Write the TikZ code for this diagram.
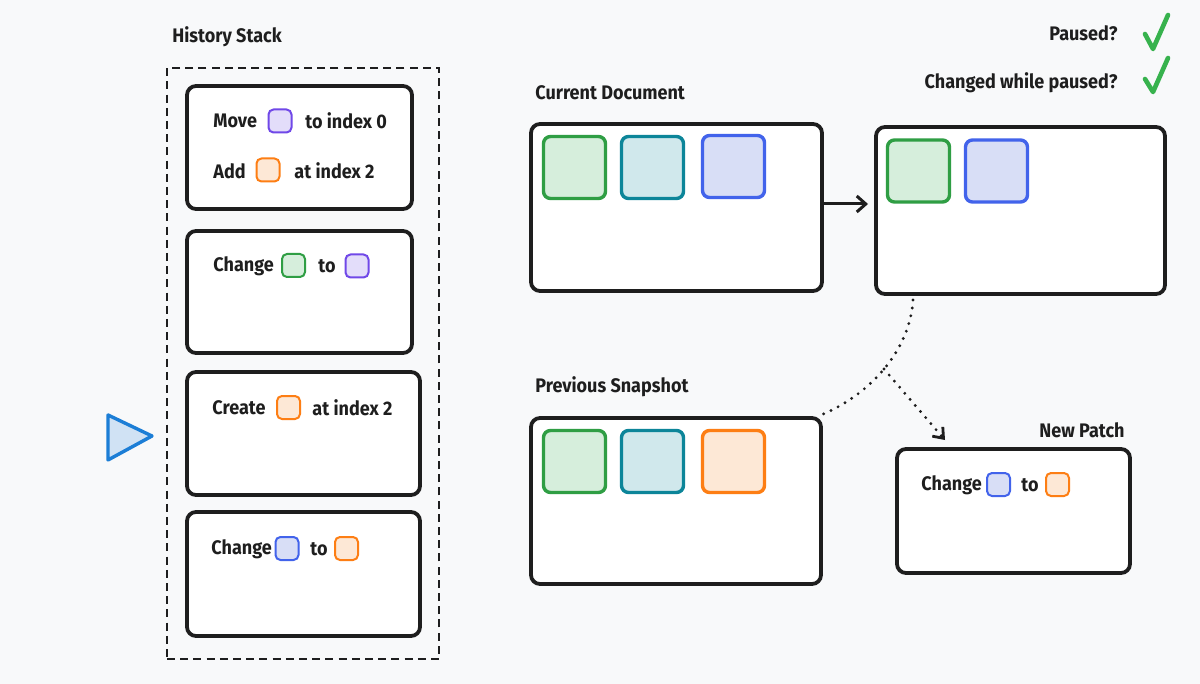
\documentclass[tikz,border=0pt]{standalone}
\usepackage{fontspec}
\setmainfont{Fira Sans}
\newfontfamily\handfont{Fira Sans}[FakeStretch=0.92]
\usetikzlibrary{arrows.meta,fit}
\definecolor{bg}{RGB}{248,249,250}
\definecolor{ink}{RGB}{30,30,30}
\definecolor{greenS}{RGB}{47,158,68}
\definecolor{greenF}{RGB}{214,238,220}
\definecolor{tealS}{RGB}{12,133,153}
\definecolor{tealF}{RGB}{208,232,236}
\definecolor{blueS}{RGB}{66,99,235}
\definecolor{blueF}{RGB}{216,222,246}
\definecolor{purpleS}{RGB}{112,72,232}
\definecolor{purpleF}{RGB}{227,221,250}
\definecolor{orangeS}{RGB}{253,126,20}
\definecolor{orangeF}{RGB}{253,232,214}
\definecolor{checkG}{RGB}{55,178,77}
\definecolor{triS}{RGB}{28,126,214}
\definecolor{triF}{RGB}{208,226,244}
\begin{document}
\begin{tikzpicture}[x=0.5pt,y=-0.5pt,
  box/.style={draw=ink, line width=1.9pt, rounded corners=4.5pt, fill=white, inner sep=0pt},
  stackbox/.style={draw=ink, line width=1.4pt, dash pattern=on 4pt off 2.6pt, inner sep=0pt},
  lbl/.style={font=\handfont\bfseries\fontsize{9.8}{11}\selectfont, text=ink, inner sep=0pt, anchor=west},
  rlbl/.style={lbl, anchor=east},
  sqs/.style={line width=1pt, rounded corners=2.5pt, minimum size=11.5pt, inner sep=0pt},
  sqb/.style={line width=1.7pt, rounded corners=3.5pt, minimum size=31pt, inner sep=0pt},
  gsq/.style={draw=greenS, fill=greenF},
  tsq/.style={draw=tealS, fill=tealF},
  bsq/.style={draw=blueS, fill=blueF},
  psq/.style={draw=purpleS, fill=purpleF},
  osq/.style={draw=orangeS, fill=orangeF},
  conn/.style={draw=ink, line width=1.5pt, line cap=round, -{Straight Barb[length=4.5pt,width=8pt,line width=1.5pt]}},
  dconn/.style={draw=ink, line width=1.4pt, line cap=round, -{Straight Barb[length=4.5pt,width=7pt,line width=1.4pt]}},
  dots/.style={draw=ink, line width=1.6pt, line cap=round, dash pattern=on 0pt off 4pt},
  check/.style={draw=checkG, line width=2.3pt, line cap=round, line join=round}
]
\fill[bg] (0,0) rectangle (1200,684);
\useasboundingbox (0,0) rectangle (1200,684);

% History stack
\node[lbl] (histlbl) at (172,37) {History Stack};
\node[stackbox, fit={(167,68) (439,659)}] (stack) {};
\node[box, fit={(187,86) (412,209)}] (h1) {};
\node[box, fit={(187,231) (412,353)}] (h2) {};
\node[box, fit={(187,372) (420,495)}] (h3) {};
\node[box, fit={(187,512) (420,636)}] (h4) {};

\node[lbl] (t1a) at (213,121) {Move};
\node[sqs,psq] (s1a) at (280,121) {};
\node[lbl] (t1b) at (305,121) {to index 0};
\node[lbl] (t1c) at (213,171) {Add};
\node[sqs,osq] (s1b) at (268,170) {};
\node[lbl] (t1d) at (294,171) {at index 2};

\node[lbl] (t2a) at (213,266) {Change};
\node[sqs,gsq] (s2a) at (293.5,265.5) {};
\node[lbl] (t2b) at (318,266) {to};
\node[sqs,psq] (s2b) at (357,266) {};

\node[lbl] (t3a) at (212,408) {Create};
\node[sqs,osq] (s3a) at (288.5,407.5) {};
\node[lbl] (t3b) at (312,408) {at index 2};

\node[lbl] (t4a) at (211,549) {Change};
\node[sqs,bsq] (s4a) at (287,548.5) {};
\node[lbl] (t4b) at (310,549) {to};
\node[sqs,osq] (s4b) at (346.5,548.5) {};

% play marker
\draw[draw=triS, fill=triF, line width=1.7pt, line join=round] (108,415) -- (152,436) -- (108,460) -- cycle;

% status
\node[rlbl] (paused) at (1118,33) {Paused?};
\node[rlbl] (changed) at (1118,83) {Changed while paused?};
\draw[check] (1145,34) -- (1153,49) -- (1168,15);
\draw[check] (1145,79) -- (1153,92) -- (1168,58);

% Current document
\node[lbl] (curlbl) at (535,93) {Current Document};
\node[box, fit={(531,124) (822,291)}] (cur) {};
\node[sqb,gsq] (c1) at (574.5,167.5) {};
\node[sqb,tsq] (c2) at (652.5,167.5) {};
\node[sqb,bsq] (c3) at (733.5,166.5) {};

% After
\node[box, fit={(876,127) (1165,294)}] (after) {};
\node[sqb,gsq] (a1) at (918.5,171) {};
\node[sqb,bsq] (a2) at (996.5,171) {};
\coordinate (arrS) at (823,204);
\coordinate (arrE) at (868,204);
\draw[conn] (arrS) -- (arrE);

% Previous snapshot
\node[lbl] (prevlbl) at (535,387) {Previous Snapshot};
\node[box, fit={(531,418) (821,584)}] (prev) {};
\node[sqb,gsq] (p1) at (574.5,461.5) {};
\node[sqb,tsq] (p2) at (652.5,461.5) {};
\node[sqb,osq] (p3) at (733.5,461.5) {};

% New patch
\node[rlbl] (patchlbl) at (1125,430) {New Patch};
\node[box, fit={(897,449) (1130,573)}] (patch) {};
\node[lbl] (t5a) at (921,485) {Change};
\node[sqs,bsq] (s5a) at (998.5,484.5) {};
\node[lbl] (t5b) at (1021,485) {to};
\node[sqs,osq] (s5b) at (1057.5,484.5) {};

% dotted diff lines
\coordinate (d0) at (913,300);
\coordinate (d1) at (821,415);
\coordinate (br) at (884,369);
\coordinate (pe) at (945,440);
\coordinate (pe0) at (942,436.6);
\draw[dots] (d0) .. controls (910,350) and (870,395) .. (d1);
\draw[dots] (br) -- (pe0);
\draw[dconn] (pe0) -- (pe);
\end{tikzpicture}
\end{document}
